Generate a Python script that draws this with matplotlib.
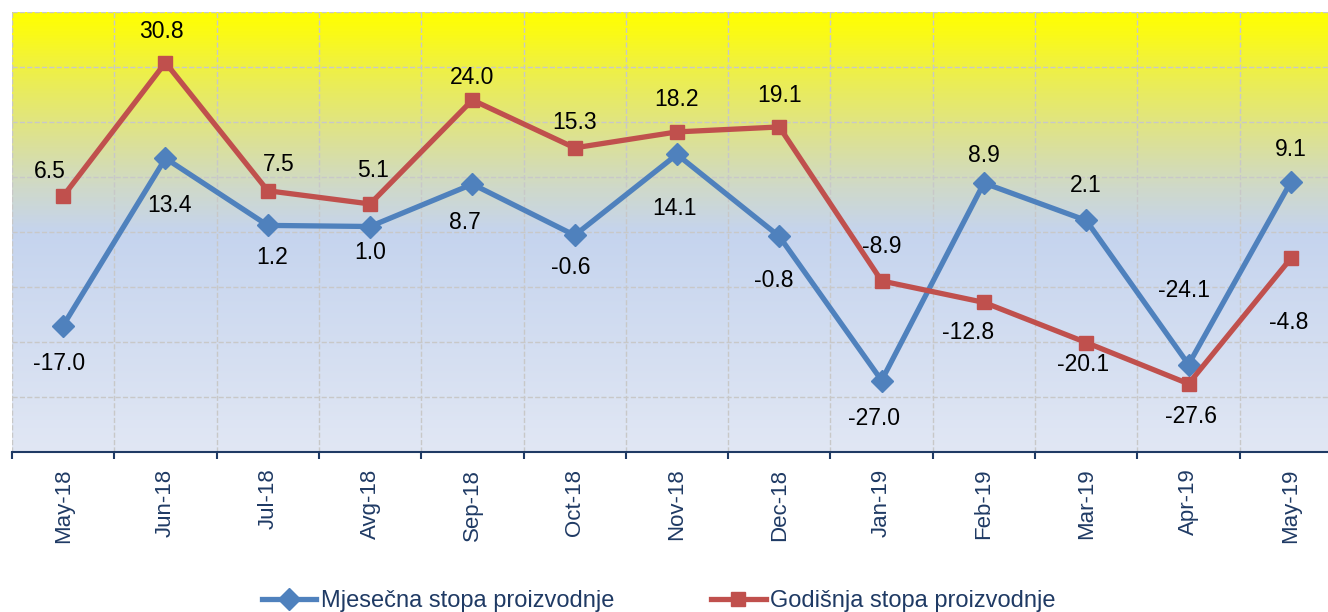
import numpy as np
import matplotlib
matplotlib.use("Agg")
import matplotlib.pyplot as plt
from matplotlib.colors import LinearSegmentedColormap

plt.rcParams['font.family'] = ['Liberation Sans', 'DejaVu Sans']

# data
months = ["May-18", "Jun-18", "Jul-18", "Avg-18", "Sep-18", "Oct-18", "Nov-18",
          "Dec-18", "Jan-19", "Feb-19", "Mar-19", "Apr-19", "May-19"]
monthly = [-17.0, 13.4, 1.2, 1.0, 8.7, -0.6, 14.1, -0.8, -27.0, 8.9, 2.1, -24.1, 9.1]
annual = [6.5, 30.8, 7.5, 5.1, 24.0, 15.3, 18.2, 19.1, -8.9, -12.8, -20.1, -27.6, -4.8]

# label offsets in screen pixels (dx, dy down), as placed in the original
monthly_off = [(-4, 38), (4, 47), (4, 32), (0, 26), (-8, 38), (-4, 32), (-3, 54),
               (-6, 44), (-8, 38), (0, -28), (0, -35), (-5, -74), (0, -32)]
annual_off = [(-13, -25), (-4, -31), (11, -26), (3, -33), (0, -22), (0, -25), (0, -32),
              (0, -31), (0, -34), (-16, 30), (-3, 22), (2, 33), (-2, 64)]

blue = '#4F81BD'
red = '#C0504D'
navy = '#1F3A64'

fig = plt.figure(figsize=(13.28, 6.12), dpi=100)
ax = fig.add_axes([12 / 1328, 1 - 452 / 612, 1330 / 1328, 440 / 612])

x = np.arange(len(months))

# gradient background
cmap = LinearSegmentedColormap.from_list('bg', [
    (0.0, '#E1E7F4'), (0.5, '#C5D4EE'), (0.6, '#CFD9CA'), (0.72, '#DDE290'),
    (0.86, '#EDEF4C'), (0.95, '#FAFA18'), (1.0, '#FFFF00')])
grad = np.linspace(0, 1, 256).reshape(-1, 1)
ax.imshow(grad, cmap=cmap, aspect='auto', origin='lower', extent=[0, 1, 0, 1],
          transform=ax.transAxes, zorder=-2)

ax.plot(x, monthly, color=blue, lw=3.8, marker='D', ms=11, zorder=3,
        label='Mjesečna stopa proizvodnje')
ax.plot(x, annual, color=red, lw=3.8, marker='s', ms=10, zorder=3,
        label='Godišnja stopa proizvodnje')

for i in range(len(months)):
    dx, dy = monthly_off[i]
    ax.annotate(f'{monthly[i]:.1f}', (x[i], monthly[i]), xytext=(dx, -dy),
                textcoords='offset pixels', ha='center', va='center',
                fontsize=16.5, color='black', zorder=4)
    dx, dy = annual_off[i]
    ax.annotate(f'{annual[i]:.1f}', (x[i], annual[i]), xytext=(dx, -dy),
                textcoords='offset pixels', ha='center', va='center',
                fontsize=16.5, color='black', zorder=4)

ax.set_xlim(-0.5, len(months) - 0.5)
ax.set_ylim(-40, 40)

ax.set_xticks(np.arange(-0.5, len(months), 1))
ax.set_xticklabels([])
ax.set_xticks(x, minor=True)
ax.set_xticklabels(months, minor=True, rotation=90, fontsize=16, color=navy)
ax.tick_params(axis='x', which='major', direction='out', length=5, width=1.5, color=navy)
ax.tick_params(axis='x', which='minor', length=0, pad=12)
ax.set_yticks(np.arange(-40, 41, 10))
ax.tick_params(axis='y', length=0, labelleft=False)

ax.grid(True, which='major', color='#C8C8C8', linestyle='--', lw=1, zorder=-1)
for s in ['top', 'left', 'right']:
    ax.spines[s].set_visible(False)
ax.spines['bottom'].set_color(navy)
ax.spines['bottom'].set_linewidth(1.5)

leg = fig.legend(loc='center', bbox_to_anchor=(659 / 1328, 0.018), ncol=2,
                 frameon=False, fontsize=17, handlelength=2.3, handletextpad=0.2,
                 columnspacing=4.1, borderpad=0)
for t in leg.get_texts():
    t.set_color(navy)

fig.savefig('out.png', dpi=100)
